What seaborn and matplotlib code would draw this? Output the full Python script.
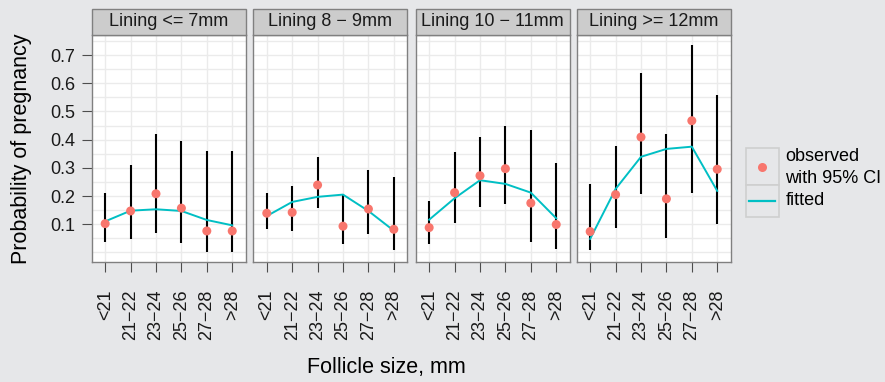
import numpy as np
import pandas as pd
import matplotlib
matplotlib.use("Agg")
import matplotlib.pyplot as plt
import seaborn as sns
from matplotlib.patches import Rectangle
from matplotlib.lines import Line2D

# ---------------- data ----------------
categories = ["<21", "21\u221222", "23\u221224", "25\u221226", "27\u221228", ">28"]
panels = ["Lining <= 7mm", "Lining 8 \u2212 9mm", "Lining 10 \u2212 11mm", "Lining >= 12mm"]

obs_p1 = [0.102, 0.147, 0.208, 0.157, 0.076, 0.076]
lo_p1 = [0.038, 0.049, 0.070, 0.033, 0.001, 0.000]
hi_p1 = [0.211, 0.310, 0.421, 0.395, 0.360, 0.360]
fit_p1 = [0.110, 0.148, 0.153, 0.147, 0.115, 0.096]

obs_p2 = [0.139, 0.142, 0.239, 0.093, 0.154, 0.082]
lo_p2 = [0.084, 0.075, 0.157, 0.030, 0.064, 0.010]
hi_p2 = [0.210, 0.236, 0.337, 0.206, 0.293, 0.269]
fit_p2 = [0.129, 0.179, 0.197, 0.205, 0.147, 0.077]

obs_p3 = [0.088, 0.212, 0.272, 0.297, 0.175, 0.099]
lo_p3 = [0.031, 0.106, 0.160, 0.173, 0.036, 0.011]
hi_p3 = [0.184, 0.356, 0.409, 0.448, 0.434, 0.316]
fit_p3 = [0.116, 0.192, 0.256, 0.243, 0.212, 0.121]

obs_p4 = [0.074, 0.205, 0.409, 0.190, 0.467, 0.295]
lo_p4 = [0.009, 0.086, 0.206, 0.052, 0.212, 0.102]
hi_p4 = [0.243, 0.378, 0.636, 0.419, 0.735, 0.559]
fit_p4 = [0.048, 0.225, 0.339, 0.367, 0.375, 0.218]

y_ticks = [0.1, 0.2, 0.3, 0.4, 0.5, 0.6, 0.7]
y_minor = [0.0, 0.05, 0.15, 0.25, 0.35, 0.45, 0.55, 0.65, 0.75]

obs_all = [obs_p1, obs_p2, obs_p3, obs_p4]
lo_all = [lo_p1, lo_p2, lo_p3, lo_p4]
hi_all = [hi_p1, hi_p2, hi_p3, hi_p4]
fit_all = [fit_p1, fit_p2, fit_p3, fit_p4]

rows = []
for p, o, l, h, f in zip(panels, obs_all, lo_all, hi_all, fit_all):
    for i, c in enumerate(categories):
        rows.append(dict(panel=p, size=c, xi=i, observed=o[i], lower=l[i], upper=h[i], fitted=f[i]))
df = pd.DataFrame(rows)

# ---------------- style ----------------
BG = "#E6E7E9"
POINT = "#F8766D"
LINE = "#00BFC4"
BORDER = "#808080"
GRID = "#EBEBEB"
plt.rcParams["font.family"] = ["Liberation Sans", "DejaVu Sans"]

W, H = 885, 382
fig = plt.figure(figsize=(W / 100, H / 100), dpi=100, facecolor=BG)

def fx(px):
    return px / W

def fy(py):
    return 1 - py / H

lefts = [91.7, 253.3, 415.7, 576.7]
pw = 154.0
top, bottom = 35.0, 262.0
strip_h = 26.0

for k, (pname, left) in enumerate(zip(panels, lefts)):
    ax = fig.add_axes([fx(left), fy(bottom), pw / W, (bottom - top) / H])
    ax.set_facecolor("white")
    sub = df[df["panel"] == pname]

    ax.vlines(sub["xi"], sub["lower"], sub["upper"], color="black", lw=1.5, zorder=2)
    sns.lineplot(data=sub, x="xi", y="fitted", color=LINE, lw=1.4, ax=ax, zorder=3,
                 legend=False, errorbar=None, sort=False)
    sns.scatterplot(data=sub, x="xi", y="observed", color=POINT, s=42, edgecolor="none",
                    ax=ax, zorder=4, legend=False)

    ax.set_xlim(-0.53, len(categories) - 1 + 0.53)
    ax.set_ylim(-0.034, 0.771)
    ax.set_xticks(range(len(categories)))
    ax.set_xticklabels(categories, rotation=90, fontsize=13, color="#1A1A1A")
    ax.set_yticks(y_ticks)
    ax.set_yticks(y_minor, minor=True)
    ax.tick_params(axis="y", which="minor", length=0)
    ax.tick_params(axis="both", which="major", length=7, width=0.8, color="#4D4D4D")
    ax.tick_params(axis="x", pad=13)
    if k == 0:
        ax.set_yticklabels([f"{v:.1f}" for v in y_ticks], fontsize=13, color="#1A1A1A")
        ax.tick_params(axis="y", pad=5)
    else:
        ax.set_yticklabels([])
        ax.tick_params(axis="y", which="major", length=0)
    ax.grid(True, which="both", color=GRID, lw=1.0, zorder=0)
    ax.set_axisbelow(True)
    ax.set_xlabel("")
    ax.set_ylabel("")
    for s in ax.spines.values():
        s.set_color(BORDER)
        s.set_linewidth(1.0)

    # strip
    sh = strip_h / (bottom - top)
    ax.add_patch(Rectangle((0, 1.0), 1, sh, transform=ax.transAxes, clip_on=False,
                           facecolor="#CCCCCC", edgecolor=BORDER, lw=1.0, zorder=5))
    ax.text(0.5, 1 + sh / 2, pname, transform=ax.transAxes, ha="center", va="center",
            fontsize=13, color="#1A1A1A", zorder=6)

# axis titles
fig.text(fx(22), fy((top + bottom) / 2), "Probability of pregnancy", rotation=90,
         ha="center", va="center", fontsize=15.5, color="black")
fig.text(fx(386), fy(368), "Follicle size, mm", ha="center", va="center",
         fontsize=15.5, color="black")

# legend
kx0, kx1 = 745.5, 778.5
ky0, kmid, ky1 = 148.0, 185.0, 216.5
for (ya, yb) in [(ky0, kmid), (kmid, ky1)]:
    fig.patches.append(Rectangle((fx(kx0), fy(yb)), (kx1 - kx0) / W, (yb - ya) / H,
                                 transform=fig.transFigure, facecolor=BG,
                                 edgecolor="#CFCFCF", lw=1.2))
fig.lines.append(Line2D([fx((kx0 + kx1) / 2)], [fy(166.5)], marker="o", markersize=6.5,
                        color=POINT, markeredgecolor="none", transform=fig.transFigure))
fig.lines.append(Line2D([fx(749), fx(775)], [fy(200.5), fy(200.5)], color=LINE, lw=1.6,
                        transform=fig.transFigure))
fig.text(fx(785.5), fy(156.5), "observed", ha="left", va="center", fontsize=13)
fig.text(fx(785.5), fy(178.5), "with 95% CI", ha="left", va="center", fontsize=13)
fig.text(fx(785.5), fy(200.5), "fitted", ha="left", va="center", fontsize=13)

fig.savefig("out.png", dpi=100, facecolor=BG)
